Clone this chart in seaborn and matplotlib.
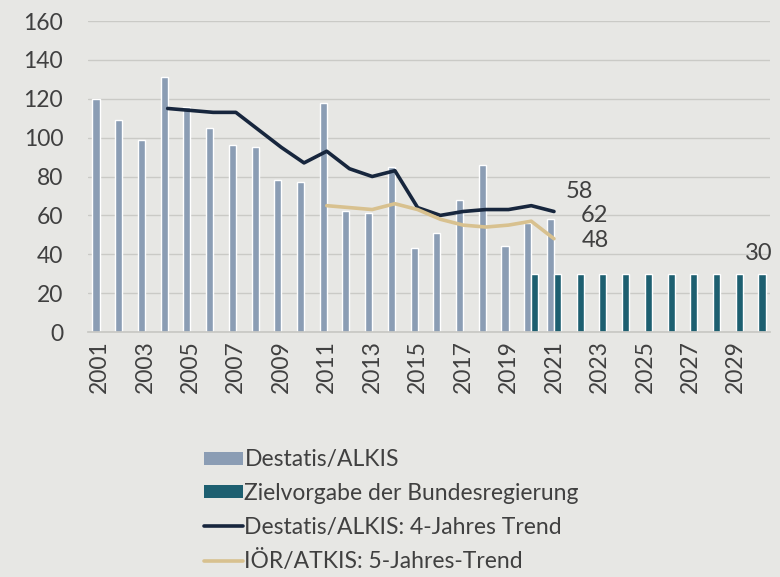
import numpy as np
import pandas as pd
import matplotlib
matplotlib.use("Agg")
import matplotlib.pyplot as plt
import seaborn as sns
from matplotlib.patches import Patch
from matplotlib.lines import Line2D

years = list(range(2001, 2031))
destatis = [120, 109, 99, 131, 116, 105, 96, 95, 78, 77, 118, 62, 61, 85, 43,
            51, 68, 86, 44, 56, 58] + [np.nan] * 9
ziel = [np.nan] * 19 + [30] * 11
trend4_years = list(range(2004, 2022))
trend4 = [115, 114, 113, 113, 104, 95, 87, 93, 84, 80, 83, 64, 60, 62, 63, 63, 65, 62]
trend5_years = list(range(2011, 2022))
trend5 = [65, 64, 63, 66, 63, 58, 55, 54, 55, 57, 48]
tick_labels = [str(y) if (y - 2001) % 2 == 0 else "" for y in years]
yticks = [0, 20, 40, 60, 80, 100, 120, 140, 160]

s_bar = "Destatis/ALKIS"
s_ziel = "Zielvorgabe der Bundesregierung"
s_t4 = "Destatis/ALKIS: 4-Jahres Trend"
s_t5 = "IÖR/ATKIS: 5-Jahres-Trend"

c_bar = "#8b9db4"
c_ziel = "#1d5f70"
c_t4 = "#17263d"
c_t5 = "#d8c18f"
bg = "#e7e7e4"
txt = "#404040"

sns.set_theme(style="white")
plt.rcParams["font.family"] = ["Lato", "DejaVu Sans"]

df = pd.DataFrame({
    "year": [str(y) for y in years] * 2,
    "value": destatis + ziel,
    "series": [s_bar] * len(years) + [s_ziel] * len(years),
})

fig = plt.figure(figsize=(7.8, 5.77), dpi=100, facecolor=bg)
ax = fig.add_axes([0.113, 0.4246, 0.874, 0.539])
ax.set_facecolor(bg)

sns.barplot(data=df, x="year", y="value", hue="series", order=[str(y) for y in years],
            palette={s_bar: c_bar, s_ziel: c_ziel}, width=0.62, gap=0.0,
            saturation=1, legend=False, ax=ax, errorbar=None)

pos4 = [years.index(y) for y in trend4_years]
pos5 = [years.index(y) for y in trend5_years]
sns.lineplot(x=pos4, y=trend4, color=c_t4, linewidth=2.6, ax=ax)
sns.lineplot(x=pos5, y=trend5, color=c_t5, linewidth=2.6, ax=ax)

ax.set_ylim(0, 160)
ax.set_xlim(-0.5, len(years) - 0.5)
ax.set_yticks(yticks)
ax.set_xticks(range(len(years)))
ax.set_xticklabels(tick_labels, rotation=90, fontsize=16.5, color=txt)
ax.tick_params(axis="y", labelsize=16.5, labelcolor=txt, length=0, pad=18)
ax.tick_params(axis="x", length=0, pad=6)
ax.set_xlabel("")
ax.set_ylabel("")
ax.yaxis.grid(True, color="#cacac6", linewidth=1)
ax.set_axisbelow(True)
for sp in ["top", "right", "left"]:
    ax.spines[sp].set_visible(False)
ax.spines["bottom"].set_color("#c8c8c4")

i21 = years.index(2021)
ax.text(i21 + 1.1, destatis[i21] + 14.5, "58", fontsize=17, color=txt, ha="center", va="center")
ax.text(i21 + 1.8, trend4[-1] - 2.3, "62", fontsize=17, color=txt, ha="center", va="center")
ax.text(i21 + 1.8, trend5[-1] - 0.7, "48", fontsize=17, color=txt, ha="center", va="center")
ax.text(len(years) - 1, ziel[-1] + 10.6, "30", fontsize=17, color=txt, ha="center", va="center")

handles = [
    Patch(facecolor=c_bar, edgecolor="none"),
    Patch(facecolor=c_ziel, edgecolor="none"),
    Line2D([], [], color=c_t4, linewidth=2.6),
    Line2D([], [], color=c_t5, linewidth=2.6),
]
fig.legend(handles, [s_bar, s_ziel, s_t4, s_t5], loc="upper left",
           bbox_to_anchor=(0.262, 0.221), frameon=False, fontsize=16.5,
           labelcolor=txt, handlelength=1.7, handleheight=0.5,
           handletextpad=0.05, labelspacing=0.55, borderaxespad=0, borderpad=0)

fig.savefig("out.png", dpi=100, facecolor=bg)
